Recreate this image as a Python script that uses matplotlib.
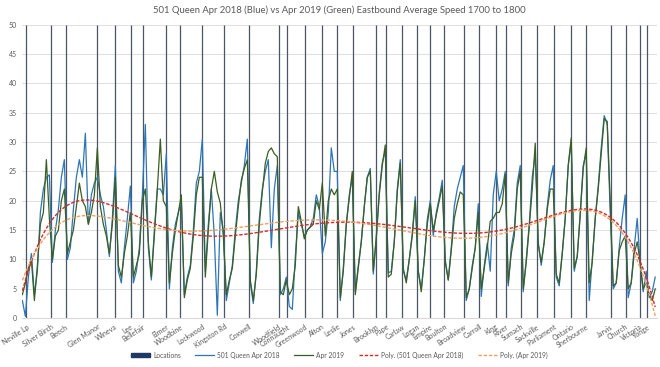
import numpy as np
import matplotlib
matplotlib.use("Agg")
import matplotlib.pyplot as plt
from matplotlib.patches import Patch

plt.rcParams['font.family'] = ['Lato', 'DejaVu Sans']

# stop names and their positions along the route (sample index units)
locations = ["Neville Lp", "Silver Birch", "Beech", "Glen Manor", "Wineva", "Lee",
             "Bellefair", "Elmer", "Woodbine", "Lockwood", "Kingston Rd", "Coxwell",
             "Woodfield", "Connaught", "Greenwood", "Alton", "Leslie", "Jones",
             "Brooklyn", "Pape", "Carlaw", "Logan", "Empire", "Boulton", "Broadview",
             "Carroll", "King", "River", "Sumach", "Sackville", "Parliament", "Ontario",
             "Sherbourne", "Jarvis", "Church", "Victoria", "Yonge"]
location_pos = [1.3, 9.4, 14.4, 25.0, 30.8, 36.1, 40.2, 47.9, 52.7, 60.0, 67.3, 75.6,
                85.6, 88.3, 94.3, 99.8, 105.0, 110.2, 117.8, 121.4, 126.6, 131.6, 135.8,
                140.7, 147.2, 152.3, 157.8, 161.1, 166.2, 171.6, 177.4, 183.0, 187.9,
                196.1, 201.1, 205.8, 208.4]

# average speed (km/h) along the route, April 2018
speed_2018 = [3, 0.3, 7, 11, 4, 8, 18, 22, 24, 24.4, 9.5, 15, 18.5, 24, 27, 10, 12, 18.5, 24, 27,
              24, 31.5, 16, 21, 23, 24, 21, 19, 15, 10.5, 17, 26, 8, 6, 12, 17, 22.5, 6, 8, 12,
              21, 33, 12, 6.5, 15, 22, 22, 21, 28, 5, 12, 16, 18, 20, 4, 7, 9, 15, 23, 25,
              30.5, 8, 16, 22, 14, 0.5, 18, 15, 3, 6, 9, 15, 20, 23, 26, 30.5, 6, 2.5, 8, 17,
              22, 25, 27, 12, 22, 26, 4, 5, 7, 2, 1.5, 10.5, 18, 16, 14, 15, 15.6, 17, 21, 19,
              11, 13, 18, 29, 25, 25, 3, 8.5, 16, 21, 24, 4.5, 9, 13, 19, 24, 25.5, 7.5, 14, 21.5,
              26.5, 28.5, 7.7, 8, 13, 22, 27, 8, 6.5, 10, 14.5, 20.7, 8, 5, 10, 16.8, 20, 14, 18, 20.5,
              23.5, 10, 6.5, 12, 19, 22, 24, 26, 3, 5, 9, 12, 19.5, 3.7, 9, 12.8, 8, 21, 25, 20,
              22, 25, 5.5, 12, 15, 23, 26, 4.5, 10, 16, 24, 28, 13, 9, 13, 19, 23.5, 26, 7, 5.5,
              11, 17, 26, 30, 8, 10.5, 18, 26, 28, 3, 10, 17, 22.5, 29, 34.5, 33, 18, 5, 6, 12,
              17, 21, 3.5, 6, 12, 17, 9, 4.5, 8, 3.5, 4.5, 7]

# average speed (km/h) along the route, April 2019
speed_2019 = [4, 6, 8.5, 10, 3, 9, 16, 18, 27, 17, 10, 14, 15, 20, 22, 11, 13, 15, 19, 23,
              20, 19, 16, 18, 21, 29, 19, 16, 14, 11, 16, 24, 9, 7, 11, 14, 18, 7, 9, 11,
              20, 22, 13, 7, 14, 22, 30.5, 20, 19, 6, 11, 15, 18, 21, 3.5, 6.5, 8.5, 14, 21, 24,
              24, 7, 15, 22, 25, 21.5, 19.6, 14, 4, 6.5, 8.5, 14, 19, 23.5, 25.5, 27, 6.5, 3, 7.5, 16,
              21.5, 26.4, 28.4, 29, 28, 27.5, 4.5, 4, 6.5, 4, 5, 9, 19, 16.5, 13.5, 15, 15.5, 16, 20, 18.5,
              23, 14, 20, 22, 21, 22, 3.5, 8, 16, 20.5, 25, 4, 8.5, 13, 19, 24, 25, 8, 13.5, 21,
              26, 29.5, 7, 7.5, 13, 21.5, 26.4, 8.5, 6, 10, 14, 20, 8, 4.5, 10, 16, 19.5, 15, 17.5, 20,
              22.5, 9.5, 6.5, 11.5, 17, 19.5, 21.5, 21, 3.5, 5, 8.5, 12, 18, 5, 8.5, 12, 16.5, 17, 18, 18,
              19.5, 24.5, 6, 11, 14, 22, 25, 5, 9.5, 15.5, 22, 29.8, 12.5, 9.5, 13, 18.5, 22, 22, 7.5, 6,
              11, 17, 26, 30.7, 8.5, 10.5, 17.5, 25.5, 29, 6, 9.5, 17, 22, 28, 34, 33.5, 20, 5.5, 6, 11.5,
              13, 14, 5, 6, 11, 13, 9.5, 5, 6, 4, 3, 5]

x = np.arange(len(speed_2018))
fit_2018 = np.polynomial.Polynomial.fit(x, speed_2018, 6)
fit_2019 = np.polynomial.Polynomial.fit(x, speed_2019, 6)

fig = plt.figure(figsize=(6.6, 3.67), dpi=100)
ax = fig.add_axes([0.033, 0.133, 0.962, 0.80])

ax.vlines(location_pos, 0, 50, color="#4a5566", lw=0.9, zorder=2)
l1, = ax.plot(x, speed_2018, color="#2e75b6", lw=0.9, zorder=3)
l2, = ax.plot(x, speed_2019, color="#3b5e24", lw=0.9, zorder=4)
l3, = ax.plot(x, fit_2018(x), color="#d62a2a", lw=1.0, ls=(0, (2.5, 1.2)), zorder=5)
l4, = ax.plot(x, fit_2019(x), color="#f0a060", lw=1.0, ls=(0, (2.5, 1.2)), zorder=5)

ax.set_ylim(0, 50)
ax.set_xlim(-0.2, len(x) - 0.5)
ax.set_yticks(range(0, 51, 5))
ax.yaxis.grid(True, color="#d9d9d9", lw=0.6)
ax.set_axisbelow(True)
for side in ["left", "right", "top"]:
    ax.spines[side].set_visible(False)
ax.spines["bottom"].set_color("#d9d9d9")
ax.tick_params(axis="both", length=0, labelsize=5, labelcolor="#595959")
ax.set_xticks(location_pos)
ax.set_xticklabels(locations, rotation=33, ha="right", rotation_mode="anchor")

ax.set_title("501 Queen Apr 2018 (Blue) vs Apr 2019 (Green) Eastbound Average Speed 1700 to 1800",
             fontsize=6.8, color="#595959", pad=8)

handles = [Patch(color="#1f3864"), l1, l2, l3, l4]
labels = ["Locations", "501 Queen Apr 2018", "Apr 2019",
          "Poly. (501 Queen Apr 2018)", "Poly. (Apr 2019)"]
ax.legend(handles, labels, loc="center", bbox_to_anchor=(0.5, -0.126), ncol=5,
          frameon=False, fontsize=4.8, handlelength=2.8, handleheight=0.6,
          handletextpad=0.5, columnspacing=2.2, labelcolor="#595959")

fig.savefig("out.png", dpi=100)
